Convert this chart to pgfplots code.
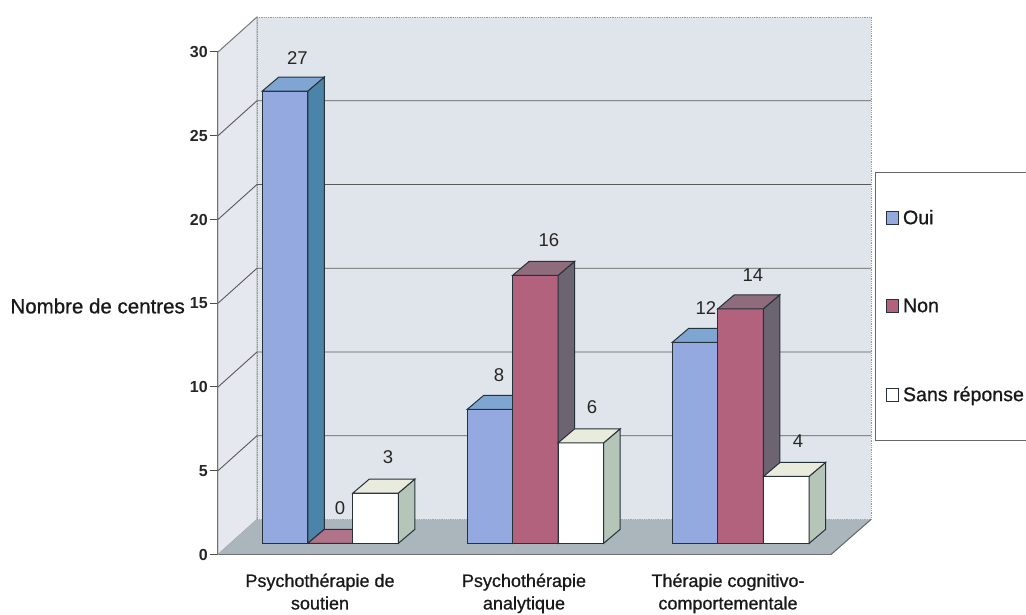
\documentclass[border=0pt]{standalone}
\usepackage{pgfplots}
\pgfplotsset{compat=1.18}
\usepackage{fontspec}
\setmainfont{Liberation Sans}
\newfontfamily\lab[FakeBold=0.8]{Liberation Sans}
\definecolor{wall}{HTML}{E0E4EB}
\definecolor{sidewall}{HTML}{E5E8EE}
\definecolor{floorc}{HTML}{AAB6BC}
\definecolor{edge}{HTML}{26323A}
\definecolor{ouiF}{HTML}{93A9E0}
\definecolor{ouiT}{HTML}{7FA6D2}
\definecolor{ouiS}{HTML}{4C83A8}
\definecolor{nonF}{HTML}{B2627C}
\definecolor{nonT}{HTML}{8F6C7C}
\definecolor{nonS}{HTML}{6C6470}
\definecolor{nspT}{HTML}{E9EBDC}
\definecolor{nspS}{HTML}{B5C5B8}
\newcommand\topside[4]{%
  \pgfmathsetmacro\xb{#1+45.5}\pgfmathsetmacro\xc{#1+62}\pgfmathsetmacro\xd{#1+16.5}\pgfmathsetmacro\vb{#2+0.836}%
  \addplot[forget plot,fill=#4,draw=edge,line width=1pt,yshift=11.2pt] coordinates {(\xb,0)(\xc,0.836)(\xc,\vb)(\xb,#2)} --cycle;
  \addplot[forget plot,fill=#3,draw=edge,line width=1pt,yshift=11.2pt] coordinates {(#1,#2)(\xb,#2)(\xc,\vb)(\xd,\vb)} --cycle;
}
\newcommand\vlab[3]{\node[font=\fontsize{18.5}{20}\selectfont,text=black!85] at (axis cs:#1,{(554.5-#2)/16.75}) {#3};}
\begin{document}
\begin{tikzpicture}
\path[use as bounding box] (-218pt,-60.5pt) rectangle +(1026pt,615pt);
\begin{axis}[
  at={(0pt,0pt)},anchor=south west,
  scale only axis,width=613pt,height=502.5pt,
  xmin=218,xmax=831,ymin=0,ymax=30,clip=false,
  axis x line*=bottom,axis y line*=left,
  axis line style={draw=black!70,line width=1pt,-},
  ytick={0,5,...,30},
  xtick={320,524,728},
  xticklabels={{Psychothérapie de\\soutien},{Psychothérapie\\analytique},{Thérapie cognitivo-\\comportementale}},
  major x tick style={draw=none},
  extra x ticks={218,422,626,831},
  extra x tick labels={},
  extra x tick style={major tick length=10pt,tick style={draw=black!70,line width=1pt}},
  ytick style={draw=black!70,line width=1pt},
  major tick length=8pt,
  tick align=outside,
  /pgf/number format/assume math mode=true,
  yticklabel style={font=\fontsize{16}{18}\bfseries\selectfont,text=black!85,inner sep=1pt,xshift=-1pt},
  xticklabel style={font=\lab\fontsize{18}{22.5}\selectfont,text=black!90,align=center,yshift=-11pt,inner sep=0pt},
  ylabel={Nombre de centres},
  every axis y label/.style={at={(axis cs:185,{(554.5-306)/16.75})},anchor=east,font=\lab\fontsize{20.5}{22}\selectfont,text=black!90,inner sep=0pt},
  legend style={at={(axis cs:875,{(554.5-172)/16.75})},anchor=north west,draw=black!60,line width=1pt,fill=white,
    font=\lab\fontsize{19.6}{22}\selectfont,text=black!90,inner xsep=10pt,inner ysep=35.5pt,
    /tikz/row sep=69pt,legend cell align=left},
  legend image code/.code={\draw[#1,line width=1pt] (0pt,-6.5pt) rectangle (12.5pt,6.5pt);\path[draw=none,fill=none] (0pt,0pt) -- (15pt,0pt);},
]
\addlegendimage{fill=ouiF,draw=edge}\addlegendentry{Oui}
\addlegendimage{fill=nonF,draw=edge}\addlegendentry{Non}
\addlegendimage{fill=white,draw=edge}\addlegendentry{Sans réponse}
% walls and floor
\addplot[forget plot,fill=wall,draw=black!40,densely dotted,line width=.8pt] coordinates {(257,2.09)(871,2.09)(871,32.09)(257,32.09)} --cycle;
\addplot[forget plot,fill=sidewall,draw=black!40,line width=.8pt] coordinates {(218,0)(257,2.09)(257,32.09)(218,30)} --cycle;
\addplot[forget plot,fill=floorc,draw=none] coordinates {(218,0)(831,0)(871,2.09)(257,2.09)} --cycle;
\addplot[forget plot,draw=black!60,line width=1pt] coordinates {(831,0)(871,2.09)};
% gridlines
\addplot[forget plot,draw=black!65,line width=.9pt] coordinates {(218,5)(257,7.09)(871,7.09)};
\addplot[forget plot,draw=black!65,line width=.9pt] coordinates {(218,10)(257,12.09)(871,12.09)};
\addplot[forget plot,draw=black!65,line width=.9pt] coordinates {(218,15)(257,17.09)(871,17.09)};
\addplot[forget plot,draw=black!65,line width=.9pt] coordinates {(218,20)(257,22.09)(871,22.09)};
\addplot[forget plot,draw=black!65,line width=.9pt] coordinates {(218,25)(257,27.09)(871,27.09)};
\addplot[forget plot,draw=black!50,line width=.9pt] coordinates {(218,30)(257,32.09)};
% Oui
\addplot[forget plot,ybar,bar width=45.5pt,bar shift=0pt,fill=ouiF,draw=edge,line width=1pt,yshift=11.2pt] coordinates {(285,27)(490,8)(695,12)};
\topside{262.3}{27}{ouiT}{ouiS}
\topside{467.3}{8}{ouiT}{ouiS}
\topside{672.3}{12}{ouiT}{ouiS}
% Non
\addplot[forget plot,ybar,bar width=45.5pt,bar shift=0pt,fill=nonF,draw=edge,line width=1pt,yshift=11.2pt] coordinates {(330.7,0)(535.5,16)(740.5,14)};
\topside{307.9}{0}{nonF!80!floorc}{nonS}
\topside{512.7}{16}{nonT}{nonS}
\topside{717.8}{14}{nonT}{nonS}
% Sans reponse
\addplot[forget plot,ybar,bar width=45.5pt,bar shift=0pt,fill=white,draw=edge,line width=1pt,yshift=11.2pt] coordinates {(375.7,3)(581,6)(786.5,4)};
\topside{352.9}{3}{nspT}{nspS}
\topside{558.2}{6}{nspT}{nspS}
\topside{763.7}{4}{nspT}{nspS}
% value labels
\vlab{297.5}{58}{27}
\vlab{340}{508}{0}
\vlab{388}{457}{3}
\vlab{499}{375}{8}
\vlab{549}{240}{16}
\vlab{592}{407}{6}
\vlab{706}{308}{12}
\vlab{753}{275}{14}
\vlab{798}{441}{4}
\end{axis}
\end{tikzpicture}
\end{document}
